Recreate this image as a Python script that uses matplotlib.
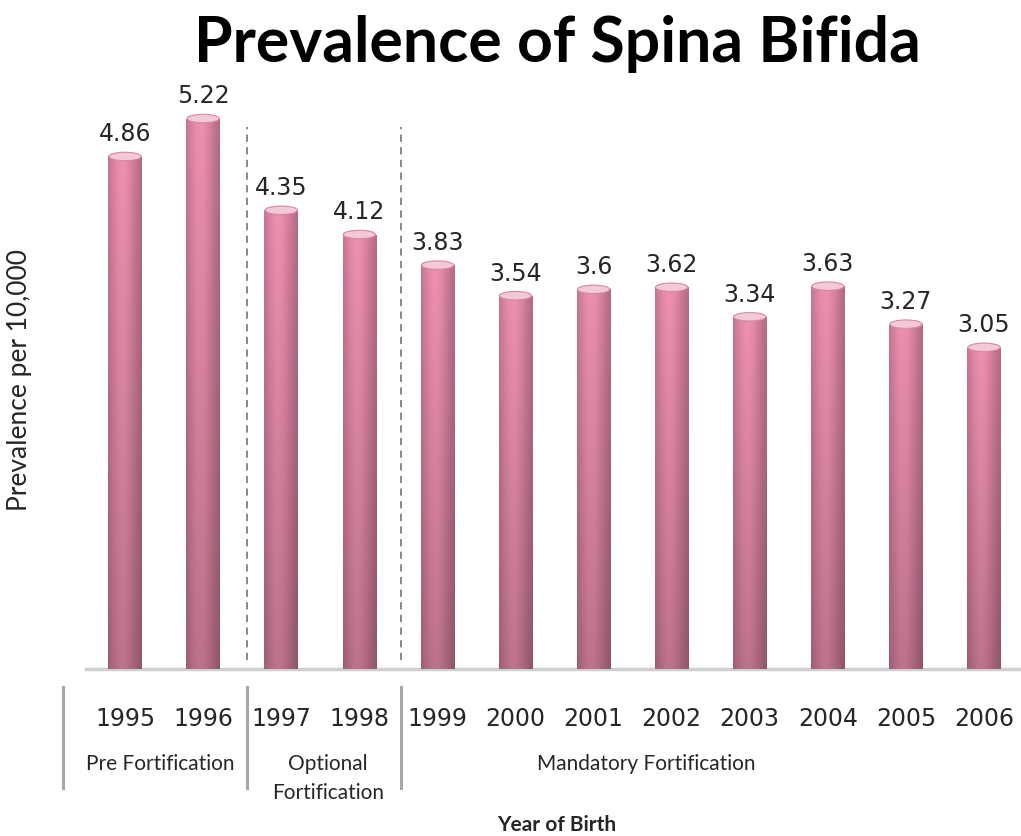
import matplotlib
matplotlib.use('Agg')
import matplotlib.pyplot as plt
import numpy as np
from matplotlib.patches import Ellipse

# Data
years = ["1995", "1996", "1997", "1998", "1999", "2000",
         "2001", "2002", "2003", "2004", "2005", "2006"]
prevalence = [4.86, 5.22, 4.35, 4.12, 3.83, 3.54, 3.6, 3.62, 3.34, 3.63, 3.27, 3.05]
value_labels = ["4.86", "5.22", "4.35", "4.12", "3.83", "3.54",
                "3.6", "3.62", "3.34", "3.63", "3.27", "3.05"]
groups = ["Pre Fortification", "Optional\nFortification", "Mandatory Fortification"]
group_label_pos = [0.45, 2.6, 6.68]
group_edges = [-0.8, 1.56, 3.53]
dashed_sep = [1.56, 3.53]

fig = plt.figure(figsize=(10.21, 8.37), dpi=100)
ax = fig.add_axes([86/1021, 1 - 670/837, 937/1021, 580/837])

x = np.arange(len(years))
bars = ax.bar(x, prevalence, width=0.43, color="#d67f9e", zorder=2)

# cylinder shading: horizontal + vertical gradient clipped to each bar
u = np.linspace(0, 1, 64)
hor = np.exp(-((u - 0.42) / 0.45) ** 2)
ver = np.linspace(0.8, 1.0, 64)[:, None]
shade = ver * (0.7 + 0.3 * hor[None, :])
light = np.array([0.93, 0.56, 0.69])
rgb = np.clip(shade[..., None] * light[None, None, :], 0, 1)

for bar in bars:
    x0, w, h = bar.get_x(), bar.get_width(), bar.get_height()
    im = ax.imshow(rgb, extent=[x0, x0 + w, 0, h], origin="lower",
                   aspect="auto", zorder=3, interpolation="bilinear")
    im.set_clip_path(bar)
    cap = Ellipse((x0 + w / 2, h), w * 0.96, 0.08, facecolor="#f3c9d8",
                  edgecolor="#d08aa4", linewidth=0.8, zorder=4)
    ax.add_patch(cap)

for bar, lab in zip(bars, value_labels):
    ax.annotate(lab, (bar.get_x() + bar.get_width() / 2, bar.get_height()),
                xytext=(0, 8), textcoords="offset points", ha="center",
                va="bottom", fontsize=17, color="#262626", family="DejaVu Sans")

ax.set_xlim(-0.5, 11.5)
ax.set_ylim(0, 5.5)

for s in ["top", "right", "left"]:
    ax.spines[s].set_visible(False)
ax.spines["bottom"].set_color("#cfcfcf")
ax.spines["bottom"].set_linewidth(2.5)
ax.set_yticks([])
ax.set_xticks(x)
ax.set_xticklabels(years, fontsize=17, color="#262626", family="DejaVu Sans")
ax.tick_params(axis="x", length=0, pad=27)

# dashed separators inside the plot
for s in dashed_sep:
    ax.axvline(s, ymin=0.015, ymax=0.935, color="#7f7f7f", linestyle=(0, (4, 3)),
               linewidth=1.3, zorder=1)

# group brackets under the axis
trans = ax.get_xaxis_transform()
for e in group_edges:
    ax.plot([e, e], [-0.031, -0.205], transform=trans, color="#a6a6a6",
            linewidth=2.2, clip_on=False)
for g, gx in zip(groups, group_label_pos):
    ax.text(gx, -0.145, g, transform=trans, ha="center", va="top",
            fontsize=15, family="Lato", color="#262626", linespacing=1.55)

fig.text(557/1021, 1 - 44/837, "Prevalence of Spina Bifida", ha="center",
         va="center", fontsize=45, fontweight="bold", family="Lato", color="black")
fig.text(20/1021, 1 - 380/837, "Prevalence per 10,000", rotation=90,
         ha="center", va="center", fontsize=19, family="Lato", color="#262626")
fig.text(557/1021, 1 - 825/837, "Year of Birth", ha="center", va="center",
         fontsize=15, fontweight="bold", family="Lato", color="#262626")

plt.savefig("out.png", dpi=100)
